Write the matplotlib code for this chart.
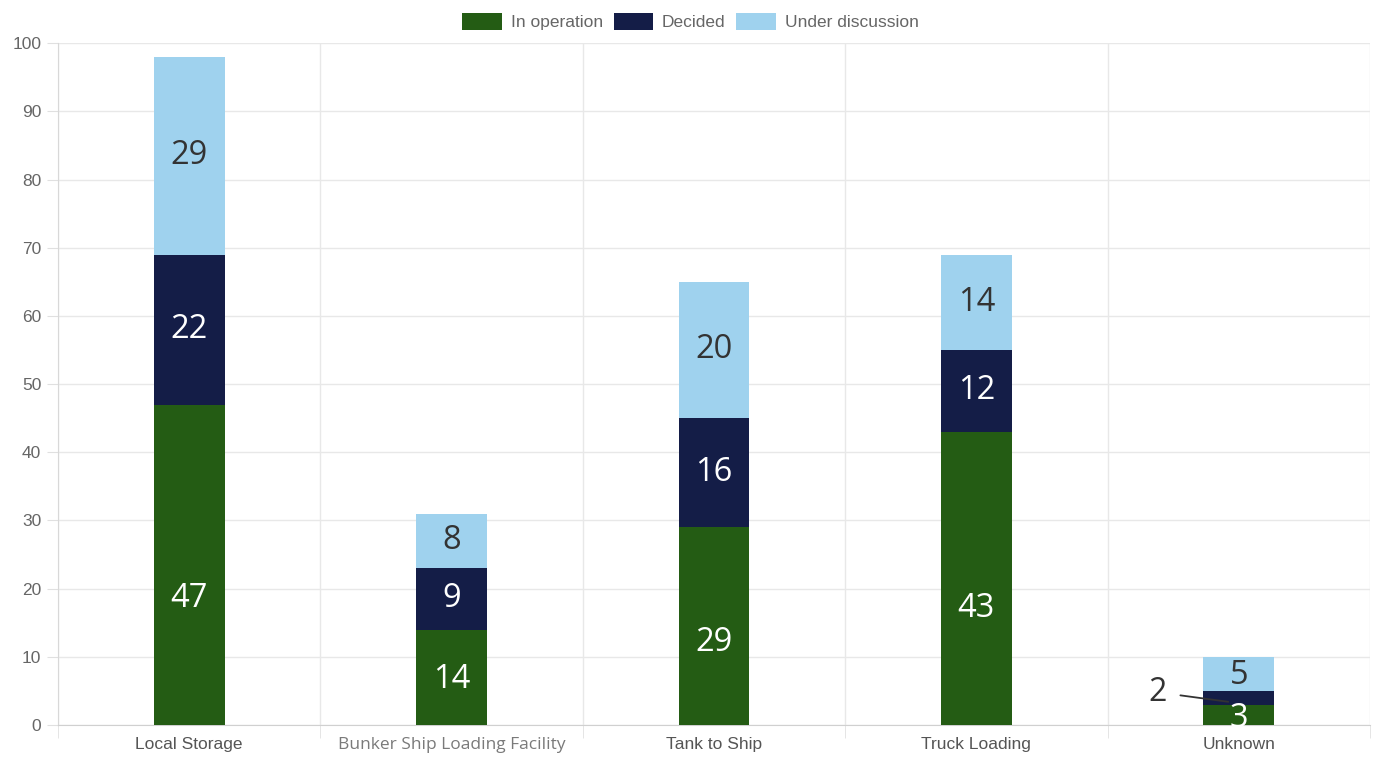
import numpy as np
import matplotlib.pyplot as plt
from matplotlib.patches import Patch

# Bunkering infrastructure by type and status
categories = ["Local Storage", "Bunker Ship Loading Facility", "Tank to Ship",
              "Truck Loading", "Unknown"]
in_operation = [47, 14, 29, 43, 3]
decided = [22, 9, 16, 12, 2]
under_discussion = [29, 8, 20, 14, 5]

series = [
    ("In operation", in_operation, "#245c14", "white"),
    ("Decided", decided, "#141d47", "white"),
    ("Under discussion", under_discussion, "#9fd2ee", "#333333"),
]

plt.rcParams['font.family'] = ['Liberation Sans', 'DejaVu Sans']
label_font = ["Open Sans", "DejaVu Sans"]

fig = plt.figure(figsize=(13.81, 7.57), dpi=100)
ax = fig.add_axes([0.042, 0.0423, 0.950, 0.9007])

x = np.arange(len(categories))
width = 0.27
bottom = np.zeros(len(categories))

for k, (name, vals, color, txt_color) in enumerate(series):
    vals = np.array(vals, dtype=float)
    ax.bar(x, vals, width, bottom=bottom, color=color, label=name, zorder=3)
    for i, v in enumerate(vals):
        if k == 0 and v > 5:
            # labels on the bottom segment sit a little low
            cy = 0.36 * v + 1.6
        else:
            cy = bottom[i] + v / 2
        if v < 3:
            # small segment: label outside with a leader line
            ax.annotate(f"{v:g}", xy=(x[i] - 0.04, bottom[i] + 0.4),
                        xytext=(x[i] - 0.31, cy + 0.8),
                        ha="center", va="center", fontsize=23, color="#333333",
                        family=label_font,
                        arrowprops=dict(arrowstyle="-", color="#333333", lw=1.3,
                                        shrinkA=8, shrinkB=0),
                        zorder=5)
        else:
            if v <= 5:
                cy += -0.2 if k == 2 else -0.5
            ax.text(x[i], cy, f"{v:g}", ha="center", va="center", fontsize=23.5,
                    color=txt_color, family=label_font, zorder=4)
    bottom += vals

ax.set_xlim(-0.5, len(categories) - 0.5)
ax.set_ylim(0, 100)
ax.set_yticks(np.arange(0, 101, 10))

ax.set_xticks(x)
ax.set_xticklabels(categories)
ax.set_xticks(np.arange(-0.5, len(categories), 1), minor=True)

ax.grid(axis="y", color="#e8e8e8", lw=1, zorder=0)
ax.grid(axis="x", which="minor", color="#e8e8e8", lw=1, zorder=0)
ax.tick_params(axis="x", which="major", length=0, pad=9, labelsize=12.5, labelcolor="#555555")
ax.tick_params(axis="x", which="minor", length=9, color="#e0e0e0")
ax.tick_params(axis="y", length=8, color="#e0e0e0", pad=4, labelsize=12.5, labelcolor="#666666")

# the second category label is set in a different, lighter face
bunker = ax.get_xticklabels()[1]
bunker.set_family(label_font)
bunker.set_color("#7a7a7a")
bunker.set_fontsize(12.5)

for side in ["top", "right"]:
    ax.spines[side].set_visible(False)
ax.spines["left"].set_color("#d8d8d8")
ax.spines["bottom"].set_color("#d0d0d0")

handles = [Patch(facecolor=c, label=n) for n, _, c, _ in series]
fig.legend(handles=handles, loc="upper center", bbox_to_anchor=(0.5, 1.004), ncol=3,
           frameon=False, fontsize=12.5, labelcolor="#666666", handlelength=2.3,
           handleheight=1.2, handletextpad=0.5, columnspacing=0.6)

fig.savefig("out.png", dpi=100)
